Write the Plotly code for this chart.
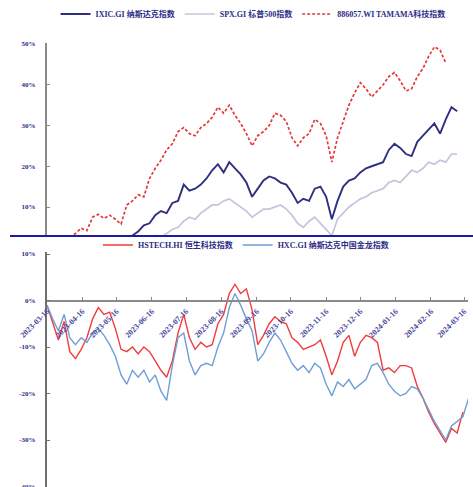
import pandas as pd
import plotly.graph_objects as go

# ---------------- data ----------------
dates = pd.date_range("2023-03-16", periods=75, freq="5D")

tamama = [0, 0.5, -0.5, 1.5, 2.5, 3.5, 4.8, 4.2, 7.5, 8.2, 7.2, 8.0, 7.0, 5.8, 10.5,
          11.5, 13.0, 12.5, 17.0, 19.5, 21.5, 24, 25.5, 28.5, 29.5, 28, 27.5, 29.5, 30.5, 32,
          34.5, 33, 35, 32.5, 30.5, 28, 25, 27.5, 28.5, 30, 33, 32.5, 31, 27, 25,
          27, 28, 31.5, 30.5, 27.5, 21, 27, 31, 35, 38, 40.5, 39, 37, 38.5, 40,
          42, 43, 41, 38.5, 39, 42, 44, 47, 49.3, 48.5, 45.3]
ixic = [0, -1, 0.5, -0.5, 1, 0.5, -1, 0, 1, 0.5, 1.5, 1, 2, 1.5, 2.5,
        3.0, 4.0, 5.5, 6.0, 8.0, 9.0, 8.5, 11, 11.5, 15.5, 14, 14.5, 15.5, 17, 19,
        20.5, 18.5, 21, 19.5, 18, 16, 12.5, 14.5, 16.5, 17.5, 17, 16, 15.5, 13.5, 11,
        12, 11.5, 14.5, 15, 12.5, 7, 11.5, 15, 16.5, 17, 18.5, 19.5, 20, 20.5, 21,
        24, 25.5, 24.5, 23, 22.5, 26, 27.5, 29, 30.5, 28, 31.5, 34.5, 33.5]
spx = [0, -0.5, 0.5, 0, 1, 0.5, -0.5, 0.5, 1, 0.5, 1.5, 1, 1.5, 1, 2,
       1.5, 2, 2.5, 2, 3, 2.5, 3.5, 4.5, 5.0, 6.5, 7.5, 7, 8.5, 9.5, 10.5,
       10.5, 11.5, 12, 11, 10, 9, 7.5, 8.5, 9.5, 9.5, 10, 10.5, 9.5, 8, 6,
       5, 6.5, 7.5, 6, 4.5, 3, 7, 8.5, 10, 11, 12, 12.5, 13.5, 14, 14.5,
       16, 16.5, 16, 17.5, 19, 18.5, 19.5, 21, 20.5, 21.5, 21, 23, 23]

hstech = [-1, -5, -8.5, -4.5, -11, -12.5, -10.5, -8, -4, -1.5, -3, -2.5, -6, -10.5, -11,
          -10, -11.5, -10, -11, -13, -15, -16.5, -13, -7, -3, -8, -10.5, -9, -10, -9.5,
          -5, -3, 1.5, 3.5, 1.5, 2.5, -2, -9.5, -7.5, -5, -3.5, -4.5, -5, -8, -9,
          -10.5, -10, -9.5, -8.5, -12, -16, -13, -9, -7.5, -12, -9, -7.5, -8, -9, -15,
          -14.5, -15.5, -14, -14, -14.5, -18.5, -21, -24, -26.5, -28.5, -30.5, -27.5, -28.5, -24]
hxc = [-1, -4, -6.5, -3, -8, -9.5, -8, -9, -7, -6, -7.5, -9.5, -12, -16, -18,
       -15, -16.5, -15, -17.5, -16, -19.5, -21.5, -14, -8, -7, -13, -16, -14, -13.5, -14,
       -10, -7, -1.5, 1.5, -1, -4, -6.5, -13, -11.5, -9, -7, -8.5, -11, -13.5, -15,
       -14, -15.5, -13.5, -14.5, -18, -20.5, -17.5, -18.5, -17, -19, -18, -17, -14, -13.5, -15.5,
       -18, -19.5, -20.5, -20, -18.5, -19, -21, -23.5, -26, -28, -30, -27, -26, -25, -21]

top_names = ["IXIC.GI 纳斯达克指数", "SPX.GI 标普500指数", "886057.WI TAMAMA科技指数"]
bottom_names = ["HSTECH.HI 恒生科技指数", "HXC.GI 纳斯达克中国金龙指数"]
top_ticks = [10, 20, 30, 40, 50]
bottom_ticks = [10, 0, -10, -20, -30, -40]
x_ticks = pd.date_range("2023-03-16", "2024-03-16", freq=pd.DateOffset(months=1))

# ---------------- figure ----------------
W, H = 473, 487
NAVY = "#2c2c86"
FONT = "Liberation Serif, Noto Sans CJK SC, serif"

def px_y(p):
    return (H - p) / H

fig = go.Figure()
fig.add_trace(go.Scatter(x=dates[:len(ixic)], y=ixic, name=top_names[0], mode="lines",
                         line=dict(color="#2e2f7e", width=1.9), xaxis="x", yaxis="y", legend="legend"))
fig.add_trace(go.Scatter(x=dates[:len(spx)], y=spx, name=top_names[1], mode="lines",
                         line=dict(color="#c4c4dc", width=1.7), xaxis="x", yaxis="y", legend="legend"))
fig.add_trace(go.Scatter(x=dates[:len(tamama)], y=tamama, name=top_names[2], mode="lines",
                         line=dict(color="#e23a3a", width=1.7, dash="3px,2px"), xaxis="x", yaxis="y", legend="legend"))
fig.add_trace(go.Scatter(x=dates[:len(hstech)], y=hstech, name=bottom_names[0], mode="lines",
                         line=dict(color="#f03c3c", width=1.4), xaxis="x2", yaxis="y2", legend="legend2"))
fig.add_trace(go.Scatter(x=dates[:len(hxc)], y=hxc, name=bottom_names[1], mode="lines",
                         line=dict(color="#6d9fd6", width=1.4), xaxis="x2", yaxis="y2", legend="legend2"))

xdom = [47 / W, 468 / W]
xrange = ["2023-03-16", "2024-03-19 12:00"]
tickfont = dict(family=FONT, size=7, color=NAVY, weight="bold")

fig.update_layout(
    width=W, height=H,
    margin=dict(l=0, r=0, t=0, b=0, autoexpand=False),
    paper_bgcolor="white", plot_bgcolor="white",
    showlegend=True,
    xaxis=dict(domain=xdom, range=xrange, anchor="y", visible=False),
    yaxis=dict(domain=[px_y(235), px_y(43)], range=[(247.75 - 235) / 4.075, (247.75 - 43) / 4.075],
               tickvals=top_ticks, ticktext=[f"{v}%" for v in top_ticks], tickfont=tickfont,
               showgrid=False, zeroline=False,
               showline=True, linecolor="#8a8a8a", linewidth=2, ticks="inside", ticklen=3,
               tickcolor="#8a8a8a", ticklabelstandoff=8, anchor="x"),
    xaxis2=dict(domain=xdom, range=xrange, anchor="free", position=px_y(300.5),
                tickvals=list(x_ticks), ticktext=[d.strftime("%Y-%m-%d") for d in x_ticks],
                tickangle=-45, tickfont=dict(family=FONT, size=8, color="#4a4aa0", weight="bold"),
                showgrid=False, showline=True, linecolor="#8a8a8a", linewidth=2,
                ticks="inside", ticklen=3, tickcolor="#8a8a8a", ticklabelstandoff=2),
    yaxis2=dict(domain=[0, px_y(252)], range=[(300.5 - 487) / 4.65, (300.5 - 252) / 4.65],
                tickvals=bottom_ticks, ticktext=[f"{v}%" for v in bottom_ticks], tickfont=tickfont,
                showgrid=False, zeroline=False, ticklabeloverflow="allow",
                showline=True, linecolor="#707070", linewidth=2, ticks="inside", ticklen=3,
                tickcolor="#707070", ticklabelstandoff=8, anchor="x2"),
    legend=dict(orientation="h", x=0.535, xanchor="center", y=px_y(14), yanchor="middle",
                font=dict(family=FONT, size=8, color=NAVY, weight="bold"), itemwidth=30,
                bgcolor="rgba(0,0,0,0)"),
    legend2=dict(orientation="h", x=0.52, xanchor="center", y=px_y(245), yanchor="middle",
                 font=dict(family=FONT, size=8, color=NAVY, weight="bold"), itemwidth=30,
                 bgcolor="rgba(0,0,0,0)"),
    shapes=[dict(type="line", xref="paper", yref="paper", x0=10 / W, x1=1, y0=px_y(236), y1=px_y(236),
                 line=dict(color="#1c1c9c", width=2))],
)

fig.write_html("out.html", config={"displayModeBar": False},
               post_script="document.body.style.margin='0px';")
